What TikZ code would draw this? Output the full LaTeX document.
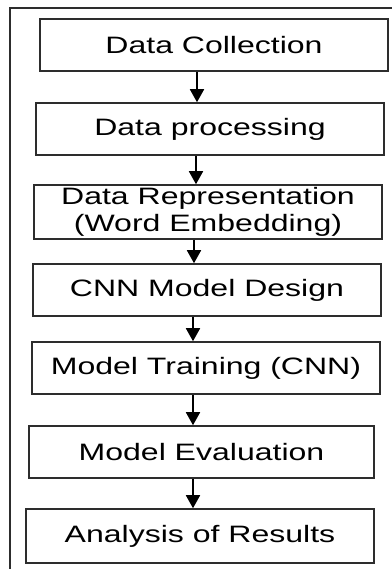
\documentclass[tikz,border=0pt]{standalone}
\usepackage{fontspec}
\setmainfont{Liberation Sans}[FakeStretch=1.35]
\usepackage{tikz}
\usetikzlibrary{arrows.meta, positioning, calc}
\definecolor{bordercolor}{RGB}{45,45,45}
\tikzset{
  base/.style={draw=bordercolor, line width=0.9pt, align=center,
               font=\fontsize{13.5}{15.5}\selectfont, inner sep=0pt},
  stage/.style = {base, fill=white, minimum width=6.96cm, minimum height=1.04cm},
  arr/.style   = {-{Triangle[length=7.4pt, width=8pt]}, line width=0.9pt, color=black},
  frame/.style = {line width=0.9pt, color=bordercolor},
}

\begin{document}
\begin{tikzpicture}[x=0.02cm, y=-0.02cm]
  \useasboundingbox (0,0) rectangle (392,569);
  \draw[frame] (10,572) |- (395,8);

  \node[stage] (dc)  at (214,45)  {Data Collection};
  \node[stage] (dp)  at (210,129) {Data processing};
  \node[stage,minimum height=1.08cm] (dr) at (208,212)
    {Data Representation\\(Word Embedding)};
  \node[stage] (cnn) at (207,290) {CNN Model Design};
  \node[stage] (mt)  at (206,368) {Model Training (CNN)};
  \node[stage,minimum width=6.9cm] (me) at (201.5,452) {Model Evaluation};
  \node[stage,minimum height=1.08cm] (ar) at (200,536) {Analysis of Results};

  \foreach \a/\b/\x in {dc/dp/197, dp/dr/196, dr/cnn/194, cnn/mt/193, mt/me/193, me/ar/193}
    \draw[arr] (\a.south -| \x,0) -- (\b.north -| \x,0);

\end{tikzpicture}
\end{document}
